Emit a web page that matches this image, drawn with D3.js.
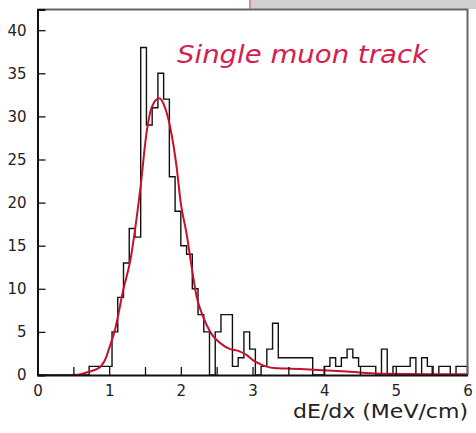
<!DOCTYPE html>
<html>
<head>
<meta charset="utf-8">
<script src="https://cdn.jsdelivr.net/npm/d3@7"></script>
<style>
  html, body { margin: 0; padding: 0; background: #fff; }
  svg { display: block; }
</style>
</head>
<body>
<svg id="chart" width="476" height="433"></svg>
<script>
// ---- data ----
const binStart = 0;
const binWidth = 0.08;
const counts = [
  0, 0, 0, 0, 0, 0, 0, 0, 0, 1,
  1, 1, 1, 5, 9, 13, 17, 16, 38, 29,
  31, 35, 32, 23, 19, 15, 14, 10, 7, 5,
  0, 5, 7, 7, 1, 2, 5, 3, 0, 1,
  3, 6, 2, 2, 2, 2, 2, 2, 0, 0,
  1, 2, 1, 2, 3, 2, 1, 1, 1, 0,
  3, 0, 1, 1, 1, 2, 0, 2, 1, 0,
  1, 1, 0, 1, 1
];
const fitX = [0.5, 0.6, 0.73, 0.87, 0.96, 1.0, 1.08, 1.2, 1.3, 1.36, 1.44, 1.52, 1.6, 1.7, 1.78, 1.85, 1.94, 2.0, 2.08, 2.15, 2.22, 2.29, 2.36, 2.45, 2.55, 2.69, 2.8, 2.92, 3.01, 3.1, 3.2, 3.3, 3.5, 3.85, 4.32, 4.78, 5.5, 6.0];
const fitY = [0.0, 0.1, 0.4, 0.9, 2.1, 3.1, 5.2, 10.0, 13.5, 16.8, 22.0, 28.0, 31.2, 32.1, 31.0, 28.8, 24.2, 19.9, 16.4, 12.6, 9.1, 7.2, 5.8, 4.5, 3.7, 3.0, 2.8, 2.3, 1.7, 1.3, 0.97, 0.8, 0.75, 0.6, 0.4, 0.15, 0.1, 0.1];
const yTicks = [0, 5, 10, 15, 20, 25, 30, 35, 40];
const xTicks = [0, 1, 2, 3, 4, 5, 6];
const xMinorTicks = [0.5, 1, 1.5, 2, 2.5, 3, 3.5, 4, 4.5, 5, 5.5];
const titleText = "Single muon track";
const xTitle = "dE/dx (MeV/cm)";

// ---- layout ----
const svg = d3.select("#chart");
const x = d3.scaleLinear().domain([0, 6]).range([37.5, 467.5]);
const y = d3.scaleLinear().domain([0, 42.4]).range([375, 9.5]);

// grey panel behind, top-right
svg.append("rect").attr("x", 249).attr("y", 0).attr("width", 227).attr("height", 9)
  .attr("fill", "#cfcfcf");
svg.append("line").attr("x1", 250).attr("x2", 250).attr("y1", 0).attr("y2", 9)
  .attr("stroke", "#d98aa6").attr("stroke-width", 2);

// plot frame background
svg.append("rect").attr("x", x(0)).attr("y", y(42.4)).attr("width", x(6) - x(0)).attr("height", y(0) - y(42.4))
  .attr("fill", "#fff");

// histogram outline
const pts = [[x(binStart), y(0)]];
counts.forEach((c, i) => {
  const lo = binStart + i * binWidth, hi = lo + binWidth;
  pts.push([x(lo), y(c)]);
  pts.push([x(hi), y(c)]);
});
pts.push([x(binStart + counts.length * binWidth), y(0)]);
svg.append("path")
  .attr("d", d3.line()(pts))
  .attr("fill", "none").attr("stroke", "#111").attr("stroke-width", 1.4);

// fit curve
const fitData = fitX.map((v, i) => [v, fitY[i]]);
svg.append("path")
  .attr("d", d3.line().x(d => x(d[0])).y(d => y(d[1])).curve(d3.curveMonotoneX)(fitData))
  .attr("fill", "none").attr("stroke", "#c8102e").attr("stroke-width", 2);

// frame: top and right grey
svg.append("path")
  .attr("d", `M${x(0)},${y(42.4)}H${x(6)}V${y(0)}`)
  .attr("fill", "none").attr("stroke", "#666").attr("stroke-width", 2);

// axes using d3 axis generators (ticks inside)
const yAxis = d3.axisLeft(y).tickValues(yTicks).tickSize(-8).tickPadding(11).tickFormat(d3.format("d"));
const gy = svg.append("g").attr("transform", `translate(${x(0)},0)`).call(yAxis);
gy.select(".domain").attr("stroke", "#111").attr("stroke-width", 2);
gy.selectAll(".tick line").attr("stroke", "#111").attr("stroke-width", 1.3);
gy.selectAll(".tick text").attr("font-family", "DejaVu Sans, sans-serif").attr("font-size", 15).attr("fill", "#222");

const xAxisMinor = d3.axisBottom(x).tickValues(xMinorTicks).tickSize(-8).tickFormat("");
const gxm = svg.append("g").attr("transform", `translate(0,${y(0)})`).call(xAxisMinor);
gxm.select(".domain").remove();
gxm.selectAll(".tick line").attr("stroke", "#111").attr("stroke-width", 1.3);

const xAxis = d3.axisBottom(x).tickValues(xTicks).tickSize(0).tickPadding(10).tickFormat(d3.format("d"));
const gx = svg.append("g").attr("transform", `translate(0,${y(0)})`).call(xAxis);
gx.select(".domain").attr("stroke", "#111").attr("stroke-width", 2);
gx.selectAll(".tick text").attr("font-family", "DejaVu Sans, sans-serif").attr("font-size", 15).attr("fill", "#222");

// axis title
svg.append("text")
  .attr("x", 468).attr("y", 418)
  .attr("text-anchor", "end")
  .attr("font-family", "DejaVu Sans, sans-serif").attr("font-size", 19).attr("fill", "#222")
  .attr("textLength", 175).attr("lengthAdjust", "spacingAndGlyphs")
  .text(xTitle);

// in-plot title
svg.append("text")
  .attr("x", 177).attr("y", 63)
  .attr("font-family", "DejaVu Sans, sans-serif").attr("font-style", "italic")
  .attr("font-size", 25).attr("fill", "#d4204c")
  .attr("textLength", 251).attr("lengthAdjust", "spacingAndGlyphs")
  .text(titleText);
</script>
</body>
</html>
